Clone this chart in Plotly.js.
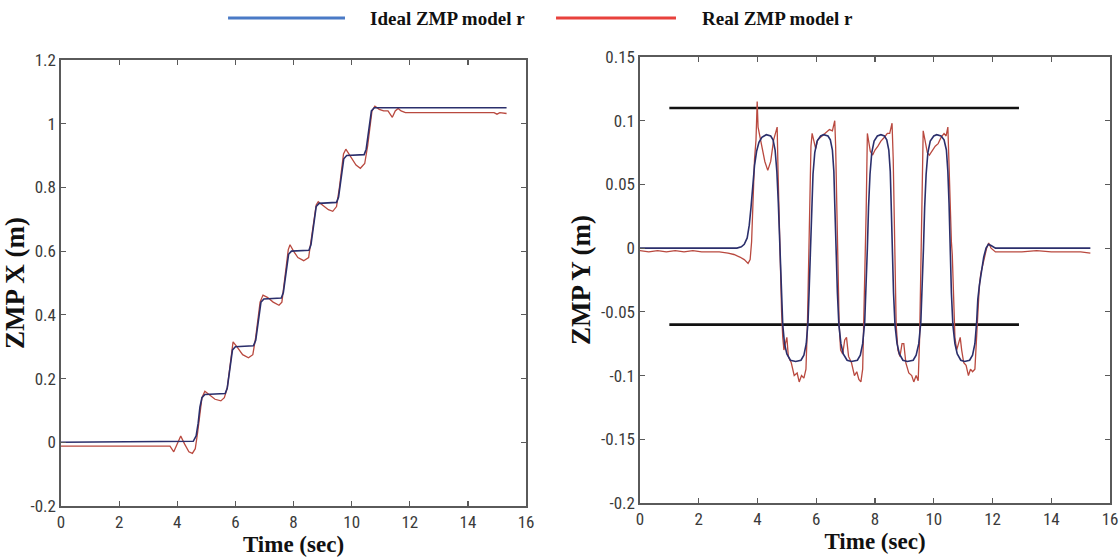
<!DOCTYPE html>
<html>
<head>
<meta charset="utf-8">
<script src="https://cdn.plot.ly/plotly-3.0.1.min.js"></script>
<style>html,body{margin:0;padding:0;background:#fff;}#chart{width:1119px;height:558px;}</style>
</head>
<body>
<div id="chart"></div>
<script>
// ---------- Data: ZMP X ----------
const idealXTime = [0,4.55,4.65,4.72,4.78,4.85,4.95,5.65,5.72,5.78,5.84,5.9,6.0,6.62,6.7,6.76,6.82,6.88,6.98,7.58,7.65,7.71,7.77,7.83,7.93,8.53,8.6,8.66,8.72,8.78,8.88,9.48,9.55,9.61,9.67,9.73,9.83,10.43,10.5,10.56,10.62,10.68,10.78,15.33];
const idealXVal  = [0,0.003,0.02,0.06,0.11,0.14,0.15,0.153,0.17,0.21,0.26,0.29,0.3,0.303,0.32,0.36,0.41,0.44,0.45,0.453,0.47,0.51,0.56,0.59,0.6,0.603,0.62,0.66,0.71,0.74,0.75,0.753,0.77,0.81,0.86,0.89,0.9,0.903,0.92,0.96,1.01,1.04,1.05,1.05];

const realXTime = [0,3.75,3.88,4.0,4.12,4.25,4.4,4.52,4.62,4.7,4.78,4.85,4.95,5.1,5.3,5.5,5.62,5.72,5.8,5.86,5.92,6.05,6.25,6.45,6.6,6.7,6.78,6.85,6.95,7.1,7.3,7.5,7.6,7.68,7.75,7.82,7.88,8.0,8.15,8.35,8.52,8.62,8.7,8.78,8.85,9.0,9.2,9.35,9.48,9.58,9.65,9.72,9.8,9.95,10.15,10.3,10.45,10.55,10.62,10.7,10.8,10.95,11.1,11.25,11.4,11.5,11.6,11.7,11.85,12.0,12.5,13.0,13.5,14.0,14.5,14.9,15.0,15.1,15.33];
const realXVal  = [-0.012,-0.012,-0.03,-0.005,0.02,-0.005,-0.03,-0.035,-0.02,0.03,0.09,0.14,0.16,0.15,0.135,0.13,0.14,0.17,0.23,0.28,0.315,0.3,0.275,0.265,0.275,0.33,0.39,0.44,0.462,0.455,0.44,0.43,0.44,0.5,0.56,0.605,0.62,0.6,0.58,0.57,0.58,0.64,0.7,0.745,0.755,0.745,0.73,0.725,0.74,0.8,0.86,0.905,0.92,0.9,0.87,0.86,0.875,0.93,0.99,1.04,1.055,1.045,1.04,1.04,1.02,1.04,1.048,1.04,1.035,1.035,1.036,1.035,1.037,1.035,1.036,1.035,1.03,1.035,1.032];

// ---------- Data: ZMP Y ----------
const idealYTime = [
  0,3.3,3.45,3.55,3.65,3.72,3.78,3.84,3.9,3.97,
  4.05,4.15,4.3,4.45,4.53,4.6,4.66,4.71,4.76,4.81,
  4.86,4.92,5.0,5.12,5.3,5.48,5.58,5.66,5.72,5.76,
  5.8,5.84,5.89,5.95,6.03,6.15,6.25,6.4,6.48,6.55,
  6.6,6.63,6.67,6.72,6.77,6.84,6.92,7.05,7.2,7.4,
  7.5,7.58,7.65,7.7,7.74,7.78,7.83,7.89,7.97,8.08,
  8.2,8.32,8.4,8.47,8.52,8.55,8.58,8.63,8.68,8.75,
  8.83,8.95,9.1,9.3,9.4,9.49,9.56,9.61,9.65,9.69,
  9.74,9.8,9.88,10.0,10.1,10.25,10.35,10.43,10.48,10.52,
  10.55,10.6,10.65,10.72,10.8,10.92,11.05,11.22,11.32,11.4,
  11.46,11.5,11.56,11.62,11.7,11.78,11.86,11.95,12.1,15.33];
const idealYVal = [
  0,0,0.001,0.003,0.008,0.018,0.032,0.05,0.065,0.076,
  0.083,0.087,0.089,0.088,0.085,0.077,0.06,0.035,0,-0.035,
  -0.06,-0.075,-0.083,-0.088,-0.089,-0.088,-0.084,-0.075,-0.058,-0.032,
  0,0.032,0.058,0.075,0.084,0.088,0.089,0.088,0.085,0.077,
  0.06,0.035,0,-0.035,-0.06,-0.075,-0.083,-0.088,-0.089,-0.088,
  -0.084,-0.075,-0.058,-0.032,0,0.032,0.058,0.075,0.084,0.088,
  0.089,0.088,0.085,0.077,0.06,0.035,0,-0.035,-0.06,-0.075,
  -0.083,-0.088,-0.089,-0.088,-0.084,-0.075,-0.058,-0.032,0,0.032,
  0.058,0.075,0.084,0.088,0.089,0.088,0.085,0.077,0.06,0.035,
  0,-0.035,-0.06,-0.075,-0.083,-0.088,-0.089,-0.088,-0.084,-0.075,
  -0.058,-0.04,-0.028,-0.017,-0.007,0,0.003,0.002,0,0];

const realYTime = [
  0,0.3,0.6,0.9,1.2,1.5,1.8,2.1,2.4,2.7,
  3.0,3.2,3.4,3.55,3.68,3.75,3.8,3.85,3.9,3.95,
  3.99,4.02,4.08,4.15,4.25,4.35,4.45,4.55,4.62,4.67,
  4.7,4.74,4.78,4.82,4.86,4.9,4.95,5.0,5.05,5.15,
  5.25,5.35,5.42,5.5,5.58,5.65,5.7,5.74,5.78,5.82,
  5.86,5.92,5.98,6.05,6.15,6.3,6.45,6.55,6.63,6.66,
  6.7,6.74,6.78,6.83,6.9,6.97,7.03,7.1,7.2,7.3,
  7.38,7.45,7.52,7.58,7.62,7.66,7.7,7.74,7.78,7.84,
  7.92,8.0,8.1,8.2,8.32,8.42,8.5,8.58,8.62,8.65,
  8.68,8.72,8.78,8.85,8.92,8.98,9.05,9.15,9.25,9.32,
  9.4,9.47,9.52,9.56,9.6,9.64,9.7,9.78,9.85,9.95,
  10.05,10.15,10.25,10.35,10.42,10.48,10.52,10.56,10.6,10.63,
  10.67,10.72,10.78,10.84,10.9,10.95,11.02,11.1,11.18,11.25,
  11.32,11.4,11.45,11.5,11.55,11.6,11.65,11.72,11.8,11.87,
  11.95,12.1,12.5,13.0,13.5,14.0,14.5,15.0,15.33];
const realYVal = [
  -0.002,-0.003,-0.002,-0.003,-0.002,-0.003,-0.002,-0.003,-0.003,-0.003,
  -0.004,-0.005,-0.007,-0.009,-0.012,-0.009,0.005,0.04,0.07,0.085,
  0.115,0.095,0.088,0.08,0.068,0.061,0.068,0.085,0.09,0.095,
  0.06,0.02,-0.02,-0.05,-0.07,-0.08,-0.075,-0.07,-0.085,-0.09,
  -0.1,-0.098,-0.105,-0.1,-0.102,-0.095,-0.06,-0.02,0.03,0.08,
  0.09,0.085,0.078,0.085,0.087,0.09,0.093,0.092,0.1,0.08,
  0.03,-0.02,-0.06,-0.08,-0.083,-0.072,-0.07,-0.085,-0.09,-0.1,
  -0.097,-0.103,-0.105,-0.095,-0.06,-0.02,0.03,0.09,0.085,0.076,
  0.073,0.077,0.08,0.084,0.087,0.09,0.09,0.098,0.07,0.03,
  -0.02,-0.06,-0.08,-0.085,-0.075,-0.075,-0.09,-0.098,-0.1,-0.105,
  -0.1,-0.104,-0.07,-0.02,0.04,0.092,0.085,0.075,0.073,0.077,
  0.08,0.082,0.087,0.09,0.088,0.095,0.06,0.02,0.005,-0.005,
  -0.04,-0.07,-0.08,-0.075,-0.07,-0.08,-0.09,-0.092,-0.1,-0.095,
  -0.097,-0.095,-0.07,-0.05,-0.03,-0.02,-0.015,-0.008,0,0.004,
  0,-0.003,-0.003,-0.003,-0.002,-0.003,-0.003,-0.003,-0.004];

// Limit lines (ZMP Y)
const boundTime  = [1, 12.9];
const boundUpper = [0.11, 0.11];
const boundLower = [-0.06, -0.06];

// Tick labels
const xTicks = [0,2,4,6,8,10,12,14,16];
const xTickText = ['0','2','4','6','8','10','12','14','16'];
const yXTicks = [-0.2,0,0.2,0.4,0.6,0.8,1,1.2];
const yXTickText = ['-0.2','0','0.2','0.4','0.6','0.8','1','1.2'];
const yYTicks = [-0.2,-0.15,-0.1,-0.05,0,0.05,0.1,0.15];
const yYTickText = ['-0.2','-0.15','-0.1','-0.05','0','0.05','0.1','0.15'];

const legendNames = ['Ideal ZMP model r', 'Real ZMP model r'];
const legendColors = ['#4a7ac6', '#e8413c'];

// ---------- Styles ----------
const idealColor = '#2b2f6c';
const realColor = '#b9493f';
const boundColor = '#111111';
const frameColor = '#5a5a5a';
const tickFont = {family: '"Liberation Sans Narrow", "Roboto Condensed", "Liberation Sans", Arial, sans-serif', size: 17, color: '#3a3a3a'};
const titleFontX = {family: '"Liberation Serif", "Times New Roman", serif', size: 23, color: '#111', weight: 'bold'};
const titleFontY = {family: '"Liberation Serif", "Times New Roman", serif', size: 27, color: '#111', weight: 'bold'};
const legendFont = {family: '"Liberation Serif", "Times New Roman", serif', size: 19, color: '#111', weight: 'bold'};

const traces = [
  {x: realXTime, y: realXVal, xaxis: 'x', yaxis: 'y', mode: 'lines', line: {color: realColor, width: 1.3}, showlegend: false},
  {x: idealXTime, y: idealXVal, xaxis: 'x', yaxis: 'y', mode: 'lines', line: {color: idealColor, width: 1.6}, showlegend: false},
  {x: boundTime, y: boundUpper, xaxis: 'x2', yaxis: 'y2', mode: 'lines', line: {color: boundColor, width: 2.6}, showlegend: false},
  {x: boundTime, y: boundLower, xaxis: 'x2', yaxis: 'y2', mode: 'lines', line: {color: boundColor, width: 2.6}, showlegend: false},
  {x: realYTime, y: realYVal, xaxis: 'x2', yaxis: 'y2', mode: 'lines', line: {color: realColor, width: 1.3}, showlegend: false},
  {x: idealYTime, y: idealYVal, xaxis: 'x2', yaxis: 'y2', mode: 'lines', line: {color: idealColor, width: 1.6}, showlegend: false}
];

function xAxisDef(domain, anchor) {
  return {
    domain: domain, anchor: anchor, range: [0, 16],
    tickmode: 'array', tickvals: xTicks, ticktext: xTickText,
    ticks: 'inside', ticklen: 5, tickwidth: 1.2, tickcolor: frameColor,
    showline: true, linecolor: frameColor, linewidth: 1.6, mirror: 'ticks',
    showgrid: false, zeroline: false, tickfont: tickFont,
    title: {text: 'Time (sec)', font: titleFontX, standoff: 0}
  };
}
function yAxisDef(domain, anchor, range, tv, tt, title) {
  return {
    domain: domain, anchor: anchor, range: range,
    tickmode: 'array', tickvals: tv, ticktext: tt,
    ticks: 'inside', ticklen: 5, tickwidth: 1.2, tickcolor: frameColor,
    showline: true, linecolor: frameColor, linewidth: 1.6, mirror: 'ticks',
    showgrid: false, zeroline: false, tickfont: tickFont,
    title: {text: title, font: titleFontY, standoff: 2}
  };
}

const legY = 0.9677;
const layout = {
  width: 1119, height: 558,
  margin: {l: 0, r: 0, t: 0, b: 0},
  paper_bgcolor: '#ffffff', plot_bgcolor: '#ffffff',
  showlegend: false,
  xaxis: xAxisDef([0.0545, 0.4701], 'y'),
  yaxis: yAxisDef([0.0932, 0.8925], 'x', [-0.2, 1.2], yXTicks, yXTickText, 'ZMP X (m)'),
  xaxis2: xAxisDef([0.5719, 0.9920], 'y2'),
  yaxis2: yAxisDef([0.0986, 0.8979], 'x2', [-0.2, 0.15], yYTicks, yYTickText, 'ZMP Y (m)'),
  shapes: [
    {type: 'line', xref: 'paper', yref: 'paper', x0: 0.2038, x1: 0.3083, y0: legY, y1: legY, line: {color: legendColors[0], width: 3}},
    {type: 'line', xref: 'paper', yref: 'paper', x0: 0.4969, x1: 0.6041, y0: legY, y1: legY, line: {color: legendColors[1], width: 3}}
  ],
  annotations: [
    {xref: 'paper', yref: 'paper', x: 0.3289, y: legY, xanchor: 'left', yanchor: 'middle', showarrow: false, text: legendNames[0], font: legendFont},
    {xref: 'paper', yref: 'paper', x: 0.6256, y: legY, xanchor: 'left', yanchor: 'middle', showarrow: false, text: legendNames[1], font: legendFont}
  ]
};

Plotly.newPlot('chart', traces, layout, {displayModeBar: false, staticPlot: true});
</script>
</body>
</html>
